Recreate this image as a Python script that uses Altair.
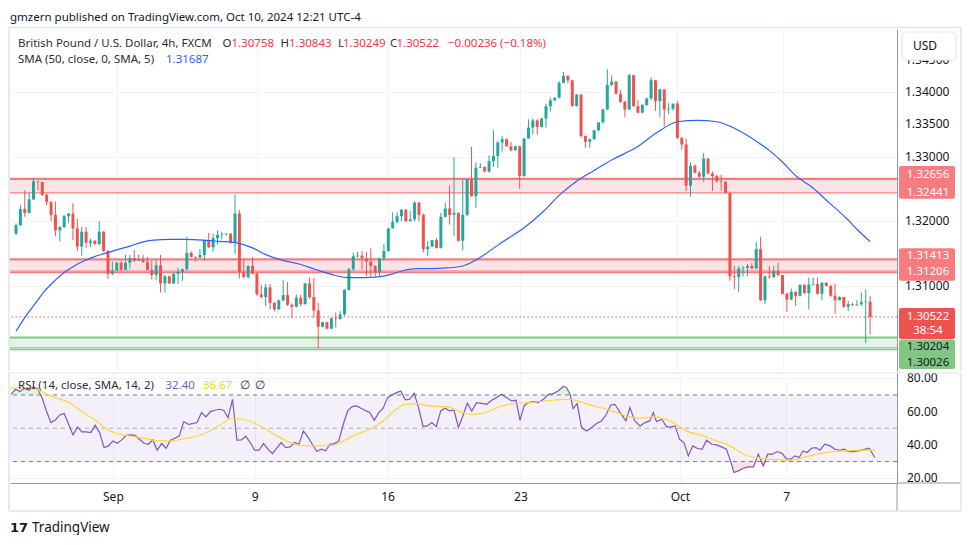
import altair as alt
import pandas as pd

FONT = "Noto Sans"
UP, DN = "#26a69a", "#ef5350"
W, HM, HR = 887, 342, 110

# ---------------- data (GBPUSD 4h candles) ----------------
open_first = 1.3181
closes = [1.3194, 1.3219, 1.3213, 1.3234, 1.3262, 1.3261, 1.3241, 1.3230, 1.3210, 1.3186,
          1.3191, 1.3208, 1.3212, 1.3189, 1.3161, 1.3184, 1.3167, 1.3170, 1.3165, 1.3184,
          1.3154, 1.3119, 1.3124, 1.3136, 1.3125, 1.3136, 1.3143, 1.3139, 1.3141, 1.3137,
          1.3125, 1.3117, 1.3132, 1.3104, 1.3115, 1.3104, 1.3119, 1.3122, 1.3126, 1.3151,
          1.3145, 1.3144, 1.3148, 1.3171, 1.3160, 1.3174, 1.3179, 1.3180, 1.3181, 1.3167,
          1.3212, 1.3121, 1.3114, 1.3131, 1.3119, 1.3087, 1.3083, 1.3098, 1.3074, 1.3064,
          1.3078, 1.3086, 1.3071, 1.3068, 1.3082, 1.3072, 1.3104, 1.3083, 1.3062, 1.3037,
          1.3044, 1.3034, 1.3050, 1.3049, 1.3056, 1.3094, 1.3126, 1.3146, 1.3147, 1.3143,
          1.3138, 1.3131, 1.3121, 1.3143, 1.3154, 1.3189, 1.3199, 1.3208, 1.3218, 1.3200,
          1.3203, 1.3229, 1.3210, 1.3157, 1.3161, 1.3171, 1.3159, 1.3207, 1.3220, 1.3210,
          1.3213, 1.3170, 1.3210, 1.3265, 1.3239, 1.3283, 1.3284, 1.3277, 1.3293, 1.3301,
          1.3322, 1.3327, 1.3316, 1.3310, 1.3316, 1.3270, 1.3328, 1.3345, 1.3356, 1.3346,
          1.3359, 1.3378, 1.3387, 1.3391, 1.3414, 1.3425, 1.3418, 1.3378, 1.3396, 1.3332,
          1.3323, 1.3327, 1.3341, 1.3353, 1.3373, 1.3411, 1.3416, 1.3397, 1.3385, 1.3373,
          1.3426, 1.3378, 1.3368, 1.3380, 1.3390, 1.3418, 1.3386, 1.3404, 1.3373, 1.3374,
          1.3382, 1.3329, 1.3319, 1.3255, 1.3286, 1.3275, 1.3269, 1.3297, 1.3274, 1.3270,
          1.3262, 1.3261, 1.3244, 1.3115, 1.3114, 1.3127, 1.3128, 1.3131, 1.3127, 1.3157,
          1.3078, 1.3115, 1.3114, 1.3123, 1.3117, 1.3088, 1.3079, 1.3091, 1.3085, 1.3102,
          1.3089, 1.3102, 1.3103, 1.3088, 1.3105, 1.3100, 1.3085, 1.3078, 1.3083, 1.3068,
          1.3072, 1.3071, 1.3072, 1.3075, 1.30758, 1.30522]
highs = [1.3197, 1.3225, 1.3248, 1.3244, 1.3267, 1.3263, 1.3261, 1.3243, 1.3231, 1.3231,
         1.3193, 1.3210, 1.3213, 1.3228, 1.3204, 1.3191, 1.3191, 1.3173, 1.3171, 1.3200,
         1.3185, 1.3156, 1.3138, 1.3137, 1.3139, 1.3148, 1.3148, 1.3156, 1.3149, 1.3148,
         1.3145, 1.3139, 1.3141, 1.3148, 1.3117, 1.3116, 1.3120, 1.3128, 1.3127, 1.3176,
         1.3154, 1.3146, 1.3157, 1.3172, 1.3182, 1.3181, 1.3186, 1.3184, 1.3182, 1.3182,
         1.3241, 1.3218, 1.3142, 1.3132, 1.3145, 1.3122, 1.3102, 1.3103, 1.3103, 1.3075,
         1.3079, 1.3109, 1.3106, 1.3073, 1.3087, 1.3086, 1.3105, 1.3113, 1.3112, 1.3074,
         1.3045, 1.3045, 1.3051, 1.3059, 1.3061, 1.3095, 1.3128, 1.3151, 1.3153, 1.3154,
         1.3153, 1.3158, 1.3132, 1.3143, 1.3165, 1.3190, 1.3214, 1.3214, 1.3219, 1.3219,
         1.3216, 1.3231, 1.3230, 1.3212, 1.3170, 1.3171, 1.3174, 1.3213, 1.3229, 1.3255,
         1.3299, 1.3214, 1.3265, 1.3266, 1.3315, 1.3291, 1.3290, 1.3285, 1.3302, 1.3341,
         1.3324, 1.3332, 1.3328, 1.3323, 1.3317, 1.3317, 1.3329, 1.3358, 1.3359, 1.3358,
         1.3360, 1.3382, 1.3391, 1.3392, 1.3417, 1.3431, 1.3426, 1.3419, 1.3397, 1.3397,
         1.3333, 1.3328, 1.3341, 1.3353, 1.3374, 1.3435, 1.3426, 1.3417, 1.3403, 1.3386,
         1.3428, 1.3426, 1.3387, 1.3381, 1.3391, 1.3423, 1.3419, 1.3405, 1.3405, 1.3383,
         1.3382, 1.3386, 1.3330, 1.3328, 1.3291, 1.3288, 1.3278, 1.3306, 1.3298, 1.3277,
         1.3272, 1.3272, 1.3262, 1.3246, 1.3131, 1.3131, 1.3131, 1.3134, 1.3136, 1.3168,
         1.3176, 1.3116, 1.3131, 1.3131, 1.3136, 1.3117, 1.3090, 1.3096, 1.3092, 1.3102,
         1.3102, 1.3113, 1.3113, 1.3113, 1.3106, 1.3106, 1.3102, 1.3103, 1.3084, 1.3074,
         1.3077, 1.3074, 1.3078, 1.3090, 1.3095, 1.30843]
lows = [1.3179, 1.3193, 1.3207, 1.3212, 1.3233, 1.3248, 1.3239, 1.3225, 1.3200, 1.3177,
        1.3169, 1.3190, 1.3198, 1.3171, 1.3154, 1.3147, 1.3159, 1.3160, 1.3163, 1.3163,
        1.3153, 1.3111, 1.3117, 1.3123, 1.3123, 1.3125, 1.3127, 1.3137, 1.3139, 1.3136,
        1.3124, 1.3110, 1.3109, 1.3090, 1.3090, 1.3103, 1.3103, 1.3103, 1.3108, 1.3124,
        1.3144, 1.3138, 1.3143, 1.3139, 1.3159, 1.3153, 1.3164, 1.3172, 1.3178, 1.3166,
        1.3150, 1.3112, 1.3112, 1.3111, 1.3118, 1.3085, 1.3081, 1.3069, 1.3064, 1.3061,
        1.3063, 1.3076, 1.3069, 1.3051, 1.3067, 1.3069, 1.3071, 1.3080, 1.3051, 1.3004,
        1.3036, 1.3033, 1.3034, 1.3036, 1.3048, 1.3054, 1.3093, 1.3123, 1.3144, 1.3126,
        1.3115, 1.3115, 1.3115, 1.3115, 1.3139, 1.3153, 1.3189, 1.3197, 1.3200, 1.3200,
        1.3200, 1.3200, 1.3200, 1.3152, 1.3146, 1.3160, 1.3158, 1.3158, 1.3206, 1.3195,
        1.3177, 1.3169, 1.3155, 1.3208, 1.3238, 1.3221, 1.3282, 1.3276, 1.3275, 1.3284,
        1.3283, 1.3308, 1.3316, 1.3308, 1.3309, 1.3250, 1.3269, 1.3328, 1.3334, 1.3334,
        1.3345, 1.3345, 1.3370, 1.3386, 1.3390, 1.3414, 1.3413, 1.3378, 1.3378, 1.3329,
        1.3314, 1.3314, 1.3327, 1.3339, 1.3351, 1.3372, 1.3409, 1.3396, 1.3383, 1.3361,
        1.3372, 1.3377, 1.3367, 1.3367, 1.3378, 1.3388, 1.3371, 1.3361, 1.3347, 1.3366,
        1.3371, 1.3327, 1.3311, 1.3247, 1.3238, 1.3274, 1.3267, 1.3261, 1.3273, 1.3247,
        1.3260, 1.3247, 1.3243, 1.3108, 1.3095, 1.3091, 1.3115, 1.3115, 1.3126, 1.3126,
        1.3077, 1.3072, 1.3111, 1.3112, 1.3115, 1.3087, 1.3060, 1.3078, 1.3069, 1.3084,
        1.3088, 1.3064, 1.3101, 1.3087, 1.3078, 1.3099, 1.3083, 1.3057, 1.3078, 1.3066,
        1.3061, 1.3069, 1.3069, 1.3069, 1.3012, 1.30249]

# SMA(50) line, read at points along the curve (x = candle number)
sma_x = [1, 3, 5.3, 7.5, 9.8, 12, 14.3, 16.6, 18.8, 21.1, 24, 27.2, 29.4, 32.4, 36.2, 39.8,
         43.7, 47.5, 51.1, 55, 57.9, 61.7, 65.6, 69.2, 73, 76.8, 80.5, 83.6, 86.6, 89.5, 92.6,
         95.6, 99.4, 103, 106.2, 111.8, 117, 121.5, 125.3, 129, 132.8, 137.3, 142.6, 147.5,
         152, 156.5, 161, 165.6, 170, 173.1, 176.1, 179.1, 182.9, 186.6, 190.4, 193.4, 196]
sma_v = [1.3030, 1.3051, 1.3072, 1.3092, 1.3108, 1.3121, 1.3131, 1.3139, 1.3145, 1.3150,
         1.3156, 1.3162, 1.3167, 1.3171, 1.3172, 1.3172, 1.3171, 1.3169, 1.3167, 1.3159,
         1.3149, 1.3140, 1.3134, 1.3126, 1.3118, 1.3113, 1.3113, 1.3114, 1.3118, 1.3124,
         1.3127, 1.3127, 1.3128, 1.3131, 1.3141, 1.3167, 1.3190, 1.3216, 1.3242, 1.3262,
         1.3278, 1.3296, 1.3314, 1.3338, 1.3354, 1.3356, 1.3354, 1.3342, 1.3324, 1.3309,
         1.3291, 1.3270, 1.3252, 1.3229, 1.3206, 1.3185, 1.31687]

# RSI(14)
rsi_x = list(range(1, 81)) + list(range(82, 106)) + [
    106.1, 107.2, 108.4, 109.5, 110.6, 111.7, 112.9, 114.0, 115.0, 115.9, 116.8, 117.8, 118.9,
    120.0, 121.2, 122.3, 123.4, 124.5, 125.7, 126.4, 127.2, 127.9, 128.8, 129.8, 130.9, 132.1,
    133.2, 134.3, 135.4, 136.4, 137.3, 138.5, 139.8, 140.7, 141.8, 143.0, 144.1, 145.2, 146.0,
    146.7, 147.9, 149.0, 150.1, 150.9, 151.9, 152.9, 153.9, 154.9, 155.9, 157.0, 158.0, 159.2,
    160.3, 161.4, 162.5, 163.4, 164.2, 165.2, 166.3, 167.4, 168.6, 169.7, 170.8, 171.8, 172.9,
    174.0, 175.1, 176.1, 177.0, 178.0, 178.9, 179.8, 180.7, 181.7, 182.7, 183.6, 184.7, 185.9,
    187.0, 188.1, 189.0, 190.2, 191.1, 192.3, 193.4, 194.7, 196]
rsi_v = [70.4, 73.4, 72.0, 74.0, 72.8, 74.8, 73.8, 68.4, 60.4, 53.4, 55.0, 58.0, 58.8, 52.4,
         46.0, 50.8, 47.8, 47.8, 47.4, 51.8, 47.4, 38.4, 39.4, 42.4, 41.0, 43.0, 45.8, 46.0,
         45.8, 43.4, 41.0, 40.4, 43.0, 36.8, 40.8, 38.0, 42.8, 44.0, 45.4, 54.0, 52.4, 52.8,
         53.4, 59.4, 56.8, 60.0, 60.8, 61.4, 60.8, 56.4, 67.4, 42.8, 43.0, 45.2, 41.4, 36.8,
         36.8, 40.8, 37.4, 34.8, 38.0, 41.4, 38.4, 38.8, 41.4, 40.4, 48.4, 44.8, 40.4, 36.0,
         37.4, 36.4, 40.4, 40.8, 42.4, 52.4, 60.4, 63.0, 63.4, 62.0,
         59.4, 54.8, 59.4, 62.0, 68.4, 70.0, 71.4, 72.4, 67.0, 67.4, 71.0, 62.4, 51.2, 51.4,
         53.4, 51.0, 60.4, 62.0, 60.4, 60.8, 50.4, 57.4, 65.0, 60.4,
         65.4, 65.0, 64.4, 66.8, 68.4, 70.4, 68.4, 66.4, 66.8, 54.8, 63.4, 65.4, 66.0,
         65.4, 67.4, 70.4, 70.8, 72.4, 75.2, 74.4, 70.4, 61.8, 64.8, 50.4, 48.4, 50.4,
         52.8, 54.4, 58.4, 64.0, 64.4, 59.4, 54.4, 62.4, 54.4, 51.4, 53.4, 54.4, 59.4,
         54.0, 55.4, 50.8, 50.8, 51.4, 43.4, 41.4, 33.4, 39.4, 38.0, 37.4, 42.8, 40.4,
         40.0, 38.8, 37.4, 30.4, 23.4, 24.4, 26.0, 26.8, 26.8, 34.4, 27.4, 34.4, 34.4,
         36.0, 34.8, 31.4, 31.4, 33.4, 32.4, 36.4, 35.4, 38.0, 38.4, 36.8, 40.4, 39.4,
         37.4, 36.8, 37.4, 36.0, 36.0, 36.4, 37.2, 38.0, 32.4]

# RSI-based moving average (SMA 14)
ma_x = [1, 3.0, 6.0, 8.3, 11.3, 13.9, 17.3, 20.3, 22.6, 25.6, 28.6, 31.6, 33.9, 36.9, 40.7,
        42.9, 45.2, 48.2, 51.2, 54.2, 58, 61, 64, 66.2, 70, 73.8, 76, 79, 82, 85, 88, 89.9,
        92.6, 95.6, 99.3, 102.4, 104.6, 106.9, 109.1, 111.4, 114.4, 118.1, 121.9, 124.9, 127.2,
        129.4, 132.4, 135.5, 137.7, 140.7, 142.9, 146, 148.2, 150.5, 153.5, 157.3, 160.3, 163.3,
        166.3, 169.3, 172.3, 176.1, 177.6, 179.8, 183.6, 186.6, 189.6, 192.6, 196]
ma_v = [74.0, 74.4, 74.0, 71.4, 68.0, 65.8, 59.4, 54.4, 49.4, 46.4, 45.0, 43.8, 42.4, 42.4,
        44.0, 45.2, 47.4, 52.0, 56.0, 54.8, 50.4, 45.4, 41.4, 39.8, 39.4, 39.8, 42.4, 46.4,
        49.4, 54.4, 61.4, 64.4, 64.8, 63.4, 63.0, 60.0, 58.4, 58.8, 60.4, 63.0, 64.8, 65.4,
        66.4, 67.2, 67.4, 66.0, 63.4, 61.4, 59.4, 56.8, 56.0, 56.8, 56.0, 53.4, 48.4, 45.4,
        42.4, 39.4, 34.4, 32.4, 31.4, 30.8, 30.8, 32.4, 34.8, 36.0, 36.4, 36.8, 36.67]

date_ticks = [24, 56, 86, 116, 152, 176]
date_labels = ["Sep", "9", "16", "23", "Oct", "7"]

price_ticks = [1.300, 1.305, 1.310, 1.315, 1.320, 1.325, 1.330, 1.335, 1.340, 1.345]
price_label_values = [1.310, 1.320, 1.330, 1.335, 1.340, 1.345]
price_label_texts = ["1.31000", "1.32000", "1.33000", "1.33500", "1.34000", "1.34500"]
rsi_ticks = [20, 40, 60, 80]
rsi_tick_texts = ["20.00", "40.00", "60.00", "80.00"]

zones = [  # (top, bottom, fill)
    (1.32656, 1.32441, "#fce4e6"),
    (1.31413, 1.31230, "#fce4e6"),
    (1.30204, 1.30045, "#e3f3e4"),
]
zone_lines = [  # (price, color, width)
    (1.32656, "#f77c80", 2.2), (1.32441, "#f77c80", 1.2),
    (1.31413, "#f77c80", 2.2), (1.31230, "#f77c80", 1.2), (1.31206, "#f77c80", 1.2),
    (1.30204, "#81c784", 2.2), (1.30045, "#81c784", 1.2), (1.30015, "#81c784", 1.2),
]
last_price = 1.30522

# price-scale tags: (top price, bottom price, top offset px, bottom offset px, color)
tags = [
    (1.32656, 1.32441, -13, 6, "#f77c80"),
    (1.31413, 1.31206, -11, 8, "#f77c80"),
    (1.30522, 1.30522, -9, 22, "#ef5350"),
    (1.30204, 1.30026, 2, 20, "#81c784"),
]
tag_texts = [  # (price, text, dy, color)
    (1.32656, "1.32656", -4, "white"), (1.32441, "1.32441", 0, "white"),
    (1.31413, "1.31413", -3, "white"), (1.31206, "1.31206", -1, "white"),
    (1.30522, "1.30522", 0, "white"), (1.30522, "38:54", 14, "white"),
    (1.30204, "1.30204", 9.5, "#131722"), (1.30026, "1.30026", 13.5, "#131722"),
]

# ---------------- helpers ----------------
one = pd.DataFrame({"a": [0]})
xscale = alt.Scale(domain=[0.77, 201.0], nice=False, zero=False)
yscale = alt.Scale(domain=[1.29686, 1.34974], nice=False, zero=False)
rscale = alt.Scale(domain=[17.1, 83.2], nice=False, zero=False)


def txt(text, x, y, color, size=11, align="left", weight="normal", font=FONT):
    return alt.Chart(pd.DataFrame({"t": [text]})).mark_text(
        align=align, baseline="middle", color=color, fontSize=size, font=font, fontWeight=weight
    ).encode(x=alt.value(x), y=alt.value(y), text="t:N")


def hline(x1, x2, y, color, w=1.0):
    return alt.Chart(one).mark_rule(color=color, strokeWidth=w).encode(
        x=alt.value(x1), x2=alt.value(x2), y=alt.value(y))


def vline(x, y1, y2, color, w=1.0):
    return alt.Chart(one).mark_rule(color=color, strokeWidth=w).encode(
        x=alt.value(x), y=alt.value(y1), y2=alt.value(y2))


# ---------------- main price pane ----------------
n = len(closes)
opens = [open_first] + closes[:-1]
cdf = pd.DataFrame({"i": list(range(1, n + 1)), "o": opens, "h": highs, "l": lows, "c": closes})
col = alt.condition("datum.c >= datum.o", alt.value(UP), alt.value(DN))

yaxis = alt.Axis(orient="right", values=price_ticks, labels=False, grid=True,
                 gridColor="#f0f3fa", domain=True, domainColor="#9598a1", ticks=False,
                 title=None)
xaxis_main = alt.Axis(orient="top", values=date_ticks, grid=True, gridColor="#f0f3fa",
                      labels=False, ticks=False, domain=False, title=None)

zdf = pd.DataFrame(zones, columns=["top", "bot", "fill"])
zone_fill = alt.Chart(zdf).mark_rect().encode(
    x=alt.value(0), x2=alt.value(W),
    y=alt.Y("top:Q", scale=yscale, title=None), y2="bot:Q",
    color=alt.Color("fill:N", scale=None))

zone_rules = []
for p, c, w in zone_lines:
    zone_rules.append(alt.Chart(pd.DataFrame({"p": [p]})).mark_rule(color=c, strokeWidth=w).encode(
        y=alt.Y("p:Q", scale=yscale, title=None)))

wicks = alt.Chart(cdf).mark_rule(strokeWidth=1).encode(
    x=alt.X("i:Q", scale=xscale, axis=xaxis_main, title=None),
    y=alt.Y("l:Q", scale=yscale, axis=yaxis, title=None), y2="h:Q", color=col)
bodies = alt.Chart(cdf).mark_bar(size=3).encode(
    x=alt.X("i:Q", scale=xscale, title=None),
    y=alt.Y("o:Q", scale=yscale, title=None), y2="c:Q", color=col)

sma = alt.Chart(pd.DataFrame({"x": sma_x, "v": sma_v})).mark_line(
    color="#2962ff", strokeWidth=1.2, interpolate="monotone").encode(
    x=alt.X("x:Q", scale=xscale, title=None), y=alt.Y("v:Q", scale=yscale, title=None))

last_rule = alt.Chart(pd.DataFrame({"p": [last_price]})).mark_rule(
    color="#ef5350", strokeDash=[1.5, 2.5], strokeWidth=1).encode(
    y=alt.Y("p:Q", scale=yscale, title=None))

price_labels = alt.Chart(pd.DataFrame({"p": price_label_values, "t": price_label_texts})).mark_text(
    align="left", baseline="middle", color="#131722", fontSize=12, font=FONT).encode(
    x=alt.value(W + 8), y=alt.Y("p:Q", scale=yscale, title=None), text="t:N")

tag_layers = []
for top, bot, o1, o2, c in tags:
    tag_layers.append(alt.Chart(pd.DataFrame({"a": [top], "b": [bot]})).mark_rect(
        color=c, cornerRadius=2, yOffset=o1, y2Offset=o2).encode(
        x=alt.value(W + 2), x2=alt.value(W + 58),
        y=alt.Y("a:Q", scale=yscale, title=None), y2="b:Q"))
for p, t, dy, c in tag_texts:
    tag_layers.append(alt.Chart(pd.DataFrame({"p": [p], "t": [t]})).mark_text(
        align="center", baseline="middle", color=c, fontSize=11.5, font=FONT, dy=dy).encode(
        x=alt.value(W + 31), y=alt.Y("p:Q", scale=yscale, title=None), text="t:N"))

usd_box = alt.Chart(one).mark_rect(fill="white", stroke="#e0e3eb", strokeWidth=1,
                                   cornerRadius=4).encode(
    x=alt.value(W + 5), x2=alt.value(W + 59), y=alt.value(3), y2=alt.value(31))

GREY = "#2a2e39"
RED = "#f23645"
header = [
    txt("gmzern published on TradingView.com, Oct 10, 2024 12:21 UTC-4", 0, -11, "#131722", 11.5),
    txt("British Pound / U.S. Dollar, 4h, FXCM", 8, 14.5, GREY, 11.5),
    txt("O", 212.5, 14.5, GREY, 11.5), txt("1.30758", 221.5, 14.5, RED, 11.5),
    txt("H", 270.5, 14.5, GREY, 11.5), txt("1.30843", 279, 14.5, RED, 11.5),
    txt("L", 328, 14.5, GREY, 11.5), txt("1.30249", 333, 14.5, RED, 11.5),
    txt("C", 380, 14.5, GREY, 11.5), txt("1.30522", 386.5, 14.5, RED, 11.5),
    txt("\u22120.00236 (\u22120.18%)", 438, 14.5, RED, 11.5),
    txt("SMA (50, close, 0, SMA, 5)", 8, 31, GREY, 11.5),
    txt("1.31687", 156, 31, "#2962ff", 11.5),
    txt("USD", W + 16, 17, "#131722", 12),
]
frame_main = [
    hline(-1, 951, -1.5, "#e0e3eb", 1.5),
    vline(-1, -1.5, HM, "#e0e3eb", 1.5),
    vline(951, -1.5, HM, "#e0e3eb", 1.5),
]

main = alt.layer(
    zone_fill, *zone_rules, wicks, bodies, sma, last_rule, price_labels, usd_box, *tag_layers,
    *header, *frame_main
).properties(width=W, height=HM)

# ---------------- RSI pane ----------------
rdf = pd.DataFrame({"x": rsi_x, "v": rsi_v})
date_expr = " : ".join(
    f"datum.value == {t} ? '{lab}'" for t, lab in zip(date_ticks, date_labels)) + " : ''"
xaxis_rsi = alt.Axis(values=date_ticks, labelExpr=date_expr, grid=True, gridColor="#f0f3fa",
                     ticks=False, domain=True, domainColor="#9598a1", labelPadding=8,
                     labelFont=FONT, labelFontSize=12, labelColor="#131722",
                     labelOverlap=False, title=None)
raxis = alt.Axis(orient="right", values=rsi_ticks, labels=False, grid=True,
                 gridColor="#f0f3fa", domain=True, domainColor="#9598a1", ticks=False,
                 title=None)

band = alt.Chart(pd.DataFrame({"a": [70], "b": [30]})).mark_rect(
    color="#7e57c2", opacity=0.09).encode(
    x=alt.value(0), x2=alt.value(W),
    y=alt.Y("a:Q", scale=rscale, title=None), y2="b:Q")
levels = []
for lv, op in [(70, 1.0), (50, 0.55), (30, 1.0)]:
    levels.append(alt.Chart(pd.DataFrame({"p": [lv]})).mark_rule(
        color="#787b86", strokeDash=[4, 4], strokeWidth=1, opacity=op).encode(
        y=alt.Y("p:Q", scale=rscale, title=None)))

ob = alt.Chart(rdf).transform_calculate(top="max(datum.v, 70)", base="70").mark_area(
    color="#4caf50", opacity=0.18).encode(
    x=alt.X("x:Q", scale=xscale, title=None),
    y=alt.Y("top:Q", scale=rscale, title=None), y2="base:Q")
os_ = alt.Chart(rdf).transform_calculate(bot="min(datum.v, 30)", base="30").mark_area(
    color="#f23645", opacity=0.15).encode(
    x=alt.X("x:Q", scale=xscale, title=None),
    y=alt.Y("bot:Q", scale=rscale, title=None), y2="base:Q")

rsi_line = alt.Chart(rdf).mark_line(color="#7e57c2", strokeWidth=1.2).encode(
    x=alt.X("x:Q", scale=xscale, axis=xaxis_rsi, title=None),
    y=alt.Y("v:Q", scale=rscale, axis=raxis, title=None))
ma_line = alt.Chart(pd.DataFrame({"x": ma_x, "v": ma_v})).mark_line(
    color="#fdd835", strokeWidth=1.2, interpolate="monotone").encode(
    x=alt.X("x:Q", scale=xscale, title=None), y=alt.Y("v:Q", scale=rscale, title=None))

rsi_labels = alt.Chart(pd.DataFrame({"p": rsi_ticks, "t": rsi_tick_texts})).mark_text(
    align="left", baseline="middle", color="#131722", fontSize=12, font=FONT).encode(
    x=alt.value(W + 10), y=alt.Y("p:Q", scale=rscale, title=None), text="t:N")

rsi_texts = [
    txt("RSI (14, close, SMA, 14, 2)", 8, 13, GREY, 11.5),
    txt("32.40", 155.5, 13, "#7e57c2", 11.5),
    txt("36.67", 193, 13, "#f4d21f", 11.5),
    txt("\u2205", 230, 13, GREY, 11.5),
    txt("\u2205", 245, 13, GREY, 11.5),
    txt("17", 0, 155, "#131722", 13, weight="bold", font="DejaVu Sans"),
    txt("TradingView", 22, 155, "#131722", 13.5),
]
frame_rsi = [
    hline(-1, 951, 0, "#e0e3eb", 1),
    hline(W, 950, HR, "#9598a1", 1),
    vline(W, HR, 138, "#9598a1", 1),
    vline(-1, 0, 138, "#e0e3eb", 1.5),
    vline(951, 0, 138, "#e0e3eb", 1.5),
    hline(-1, 951, 138, "#e0e3eb", 1.5),
]

rsi = alt.layer(
    band, *levels, ob, os_, rsi_line, ma_line, rsi_labels, *rsi_texts, *frame_rsi
).properties(width=W, height=HR)

chart = alt.vconcat(main, rsi, spacing=0).properties(
    padding={"left": 0, "top": 4, "right": 0, "bottom": 0},
    background="white",
).configure_view(stroke=None)

chart.save("out.html", embed_options={"renderer": "svg", "actions": False})
